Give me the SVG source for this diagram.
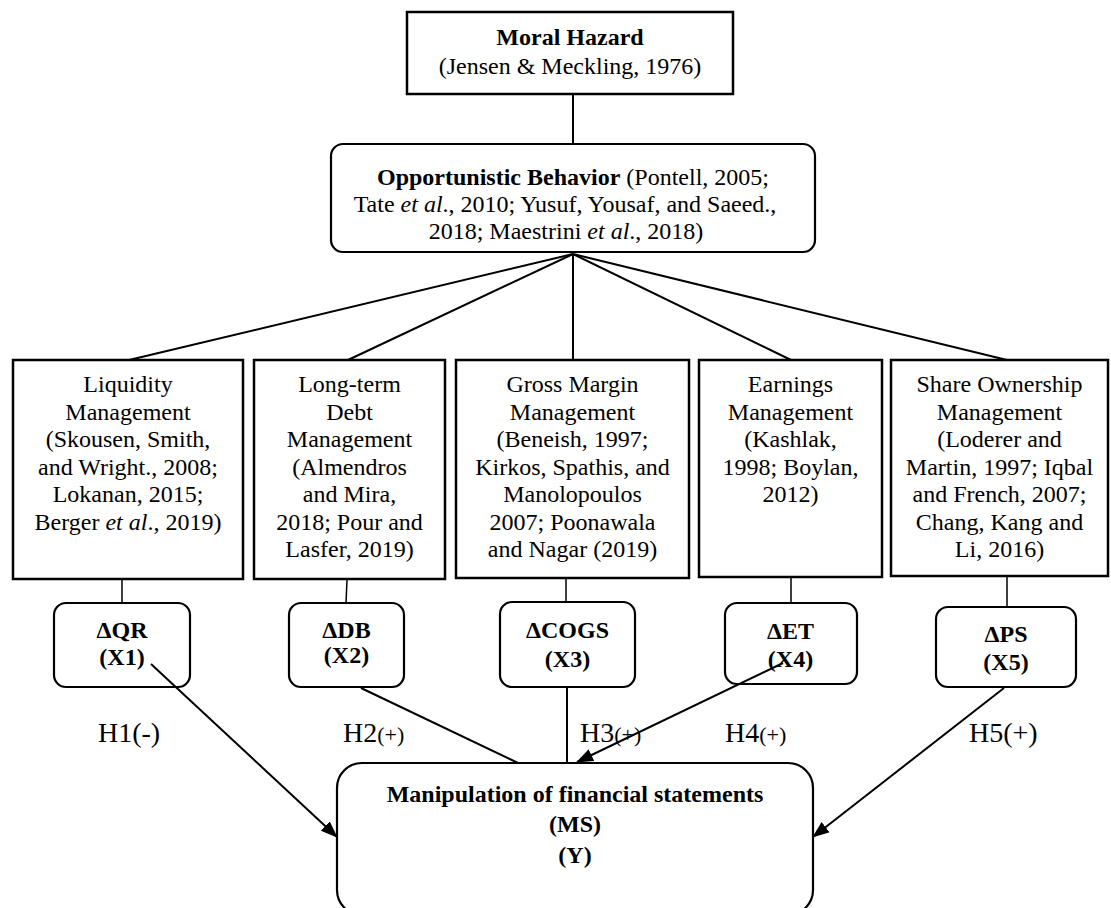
<svg xmlns="http://www.w3.org/2000/svg" width="1111" height="908" viewBox="0 0 1111 908">
<style>
text{font-family:"Liberation Serif","Times New Roman",serif;fill:#000}
.t{font-size:24px;text-anchor:middle}
.b{font-weight:bold}
.box{fill:#fff;stroke:#000;stroke-width:2.5}
.rbox{fill:#fff;stroke:#000;stroke-width:2.2}
.ln{stroke:#000;stroke-width:2;fill:none}
.thin{stroke:#000;stroke-width:1.5;fill:none}
.h{font-size:28px}
.hs{font-size:22px}
</style>
<defs>
<marker id="ah" markerUnits="userSpaceOnUse" markerWidth="18" markerHeight="14" refX="16" refY="6.5" orient="auto">
<path d="M0,0 L17,6.5 L0,13 z" fill="#000"/>
</marker>
</defs>
<g id="moral-hazard">
<rect class="box" x="407" y="12" width="326" height="82"/>
<text class="t b" x="570" y="45">Moral Hazard</text>
<text class="t" x="570" y="74">(Jensen &amp; Meckling, 1976)</text>
</g>
<g id="opportunistic">
<rect class="rbox" x="331" y="144" width="484" height="108" rx="12"/>
<text class="t" x="573" y="185"><tspan class="b">Opportunistic Behavior</tspan> (Pontell, 2005;</text>
<text class="t" x="565" y="212">Tate <tspan font-style="italic">et al</tspan>., 2010; Yusuf, Yousaf, and Saeed.,</text>
<text class="t" x="566" y="239">2018; Maestrini <tspan font-style="italic">et al</tspan>., 2018)</text>
</g>
<g id="liquidity">
<rect class="box" x="13" y="360" width="230" height="219"/>
<text class="t" x="128" y="392">Liquidity</text>
<text class="t" x="128" y="419.5">Management</text>
<text class="t" x="128" y="447">(Skousen, Smith,</text>
<text class="t" x="128" y="474.5">and Wright., 2008;</text>
<text class="t" x="128" y="502">Lokanan, 2015;</text>
<text class="t" x="128" y="529.5">Berger <tspan font-style="italic">et al</tspan>., 2019)</text>
</g>
<g id="debt">
<rect class="box" x="254" y="360" width="191" height="219"/>
<text class="t" x="349.5" y="392">Long-term</text>
<text class="t" x="349.5" y="419.5">Debt</text>
<text class="t" x="349.5" y="447">Management</text>
<text class="t" x="349.5" y="474.5">(Almendros</text>
<text class="t" x="349.5" y="502">and Mira,</text>
<text class="t" x="349.5" y="529.5">2018; Pour and</text>
<text class="t" x="349.5" y="557">Lasfer, 2019)</text>
</g>
<g id="gross-margin">
<rect class="box" x="456" y="360" width="233" height="218"/>
<text class="t" x="572.5" y="392">Gross Margin</text>
<text class="t" x="572.5" y="419.5">Management</text>
<text class="t" x="572.5" y="447">(Beneish, 1997;</text>
<text class="t" x="572.5" y="474.5">Kirkos, Spathis, and</text>
<text class="t" x="572.5" y="502">Manolopoulos</text>
<text class="t" x="572.5" y="529.5">2007; Poonawala</text>
<text class="t" x="572.5" y="557">and Nagar (2019)</text>
</g>
<g id="earnings">
<rect class="box" x="699" y="360" width="183" height="217"/>
<text class="t" x="790.5" y="392">Earnings</text>
<text class="t" x="790.5" y="419.5">Management</text>
<text class="t" x="790.5" y="447">(Kashlak,</text>
<text class="t" x="790.5" y="474.5">1998; Boylan,</text>
<text class="t" x="790.5" y="502">2012)</text>
</g>
<g id="share-ownership">
<rect class="box" x="891" y="360" width="217" height="216"/>
<text class="t" x="999.5" y="392">Share Ownership</text>
<text class="t" x="999.5" y="419.5">Management</text>
<text class="t" x="999.5" y="447">(Loderer and</text>
<text class="t" x="999.5" y="474.5">Martin, 1997; Iqbal</text>
<text class="t" x="999.5" y="502">and French, 2007;</text>
<text class="t" x="999.5" y="529.5">Chang, Kang and</text>
<text class="t" x="999.5" y="557">Li, 2016)</text>
</g>
<g id="x1">
<rect class="rbox" x="54" y="603" width="136" height="84" rx="12"/>
<text class="t b" x="122" y="638" font-size="20">ΔQR</text>
<text class="t b" x="122" y="665" font-size="20">(X1)</text>
</g>
<g id="x2">
<rect class="rbox" x="289" y="603" width="115" height="84" rx="12"/>
<text class="t b" x="346.5" y="638" font-size="22">ΔDB</text>
<text class="t b" x="346.5" y="663" font-size="17">(X2)</text>
</g>
<g id="x3">
<rect class="rbox" x="500" y="602" width="135" height="85" rx="12"/>
<text class="t b" x="567.5" y="638" font-size="23">ΔCOGS</text>
<text class="t b" x="567.5" y="667" font-size="23">(X3)</text>
</g>
<g id="x4">
<rect class="rbox" x="725" y="603" width="132" height="81" rx="12"/>
<text class="t b" x="790.5" y="639" font-size="23">ΔET</text>
<text class="t b" x="790.5" y="667" font-size="23">(X4)</text>
</g>
<g id="x5">
<rect class="rbox" x="936" y="607" width="140" height="80" rx="12"/>
<text class="t b" x="1006" y="642" font-size="23">ΔPS</text>
<text class="t b" x="1006" y="670" font-size="23">(X5)</text>
</g>
<g id="labels">
<text class="h" x="98" y="742">H1(-)</text>
<text class="h" x="343" y="742">H2<tspan class="hs">(+)</tspan></text>
<text class="h" x="580" y="742">H3<tspan class="hs">(+)</tspan></text>
<text class="h" x="725" y="742">H4<tspan class="hs">(+)</tspan></text>
<text class="h" x="969" y="742">H5(+)</text>
</g>
<g id="manipulation">
<rect class="rbox" x="337" y="763" width="476" height="152" rx="25"/>
<text class="t b" x="575" y="802">Manipulation of financial statements</text>
<text class="t b" x="575" y="832">(MS)</text>
<text class="t b" x="575" y="863">(Y)</text>
</g>
<g id="connectors">
<line class="ln" x1="573" y1="94" x2="573" y2="144"/>
<line class="ln" x1="573" y1="254" x2="129" y2="360"/>
<line class="ln" x1="573" y1="254" x2="348" y2="360"/>
<line class="ln" x1="573" y1="254" x2="573" y2="360"/>
<line class="ln" x1="573" y1="254" x2="791" y2="360"/>
<line class="ln" x1="573" y1="254" x2="1007" y2="360"/>
<line class="thin" x1="122" y1="580" x2="122" y2="603"/>
<line class="thin" x1="347" y1="580" x2="346" y2="603"/>
<line class="thin" x1="566" y1="579" x2="566" y2="602"/>
<line class="thin" x1="791" y1="578" x2="791" y2="603"/>
<line class="thin" x1="1007" y1="577" x2="1007" y2="607"/>
<line class="ln" x1="151" y1="664" x2="337" y2="837" marker-end="url(#ah)"/>
<line class="ln" x1="361" y1="688" x2="518" y2="763"/>
<line class="ln" x1="567" y1="688" x2="567" y2="763"/>
<line class="ln" x1="783" y1="663" x2="577" y2="762" marker-end="url(#ah)"/>
<line class="ln" x1="1004" y1="688" x2="813" y2="837" marker-end="url(#ah)"/>
</g>
</svg>
